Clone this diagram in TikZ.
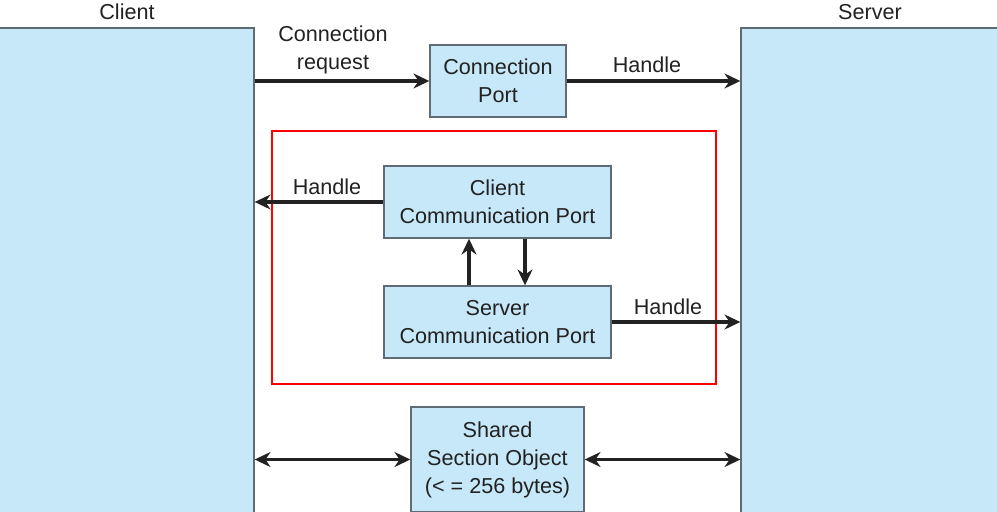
\documentclass[tikz,border=0pt]{standalone}
\usepackage{fontspec}
\setmainfont{Liberation Sans}
\usetikzlibrary{arrows.meta}
\definecolor{boxfill}{HTML}{C6E8F8}
\definecolor{boxline}{HTML}{5F6B75}
\definecolor{ink}{HTML}{222222}
\begin{document}
\begin{tikzpicture}[x=0.02cm,y=-0.02cm,
  txt/.style={font=\fontsize{12.3}{15.9}\selectfont, text=ink, align=center},
  box/.style={txt, draw=boxline, line width=0.8pt, fill=boxfill, inner sep=0pt},
  side/.style={draw=boxline, line width=0.8pt, fill=boxfill, inner sep=0pt},
  arr/.style={draw=ink, line width=2pt, -{Stealth[length=9pt,width=8.5pt]}},
  darr/.style={draw=ink, line width=2pt, {Stealth[length=9pt,width=8.5pt]}-{Stealth[length=9pt,width=8.5pt]}}]
\useasboundingbox (0,0) rectangle (997,511);
\clip (0,0) rectangle (997,511);
% side panels
\node[side, minimum width=5.12cm, minimum height=10.04cm] (client) at (126,279) {};
\node[side, minimum width=5.16cm, minimum height=10.04cm] (server) at (870,279) {};
\node[txt] (clientlbl) at (127,12) {Client};
\node[txt] (serverlbl) at (870,12) {Server};
% boxes
\node[box, minimum width=2.72cm, minimum height=1.44cm] (cport) at (498,81) {Connection\\Port};
\node[box, minimum width=4.54cm, minimum height=1.44cm] (ccp) at (497.5,202) {Client\\Communication Port};
\node[box, minimum width=4.54cm, minimum height=1.44cm] (scp) at (497.5,322) {Server\\Communication Port};
\node[box, minimum width=3.46cm, minimum height=2.1cm] (sso) at (497.5,459.5) {Shared\\Section Object\\(< = 256 bytes)};
% red frame
\draw[red, line width=1.1pt] (272,131) rectangle (716,384);
% connectors
\draw[arr] (client.east |- cport.west) -- (cport.west);
\draw[arr] (cport.east) -- (server.west |- cport.east);
\draw[arr] (ccp.west) -- (client.east |- ccp.west);
\draw[arr] (scp.east) -- (server.west |- scp.east);
\coordinate (ux) at (469,0);
\coordinate (dx) at (525,0);
\draw[arr] (scp.north -| ux) -- (ccp.south -| ux);
\draw[arr] (ccp.south -| dx) -- (scp.north -| dx);
\draw[darr] (client.east |- sso.west) -- (sso.west);
\draw[darr] (sso.east) -- (server.west |- sso.east);
% labels
\node[txt] (lreq) at (333,50) {Connection\\request};
\node[txt] (lh1) at (647,65) {Handle};
\node[txt] (lh2) at (327,187) {Handle};
\node[txt] (lh3) at (668,307) {Handle};
\end{tikzpicture}
\end{document}
